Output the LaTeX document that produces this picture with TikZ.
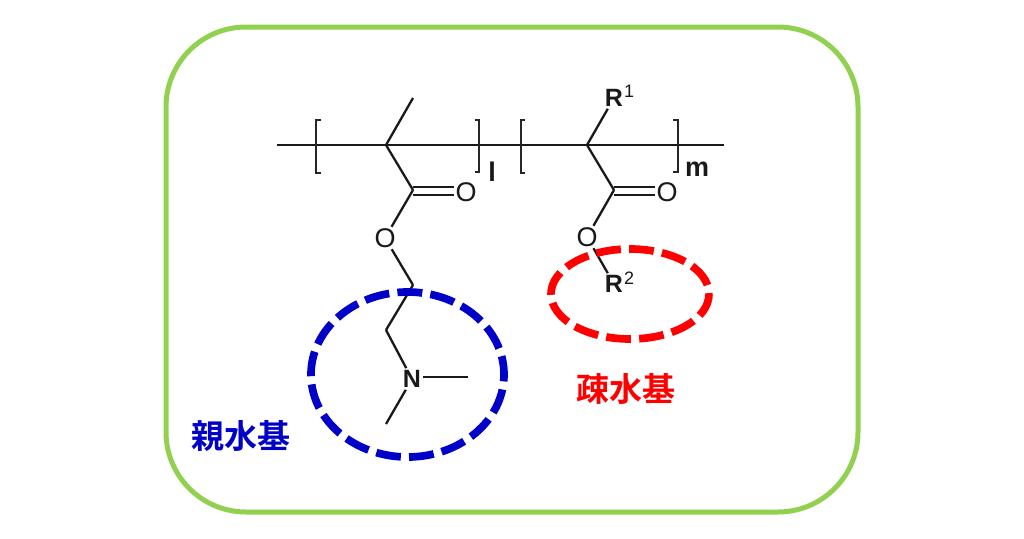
\documentclass[tikz,border=0pt]{standalone}
\usepackage{fontspec}
\setmainfont{Liberation Sans}
\newfontfamily\cjkbold[BoldFont={Noto Sans CJK JP Bold}]{Noto Sans CJK JP}
\definecolor{framegreen}{HTML}{92D050}
\definecolor{hydroblue}{HTML}{0000C8}
\definecolor{hydrored}{HTML}{FF0000}
\begin{document}
\begin{tikzpicture}[x=1pt,y=-1pt,
  bond/.style={draw=black!90,line width=2.3pt},
  brk/.style={draw=black!85,line width=2pt},
  atom/.style={inner sep=2pt,font=\fontsize{25}{25}\selectfont\bfseries,text=black!90},
  oxy/.style={inner sep=1.5pt,font=\fontsize{27}{27}\selectfont,text=black!90},
  idx/.style={inner sep=0pt,font=\fontsize{27}{27}\selectfont\bfseries,text=black!90},
  supr/.style={inner sep=0pt,font=\fontsize{18}{18}\selectfont,text=black!90},
  ring/.style={line width=7.7pt},
  label/.style={inner sep=0pt,font=\cjkbold\bfseries\fontsize{33}{34}\selectfont}]
\useasboundingbox (0,0) rectangle (1024,538);
\fill[white] (0,0) rectangle (1024,538);
\draw[framegreen,line width=5pt,rounded corners=80pt] (166,27) rectangle (858,512);

% backbone anchor points
\coordinate (endL) at (277,145);
\coordinate (endR) at (724,145);
\coordinate (C1) at (386,145);
\coordinate (C2) at (587,145);
\coordinate (Me) at (413,98);
\coordinate (CO1) at (413,190);
\coordinate (CO2) at (614,190);
\coordinate (CH1) at (413,285);
\coordinate (CH2) at (386,330);
\coordinate (NMe1) at (468,377);
\coordinate (NMe2) at (386,424);

% atoms
\node[oxy] (O1a) at (466,192) {O};
\node[oxy] (O1b) at (385,238) {O};
\node[oxy] (O2a) at (667,192) {O};
\node[oxy] (O2b) at (587,237) {O};
\node[atom] (N) at (412,379) {N};
\node[atom] (R1) at (614,98) {R};
\node[supr] (R1s) at (629,91) {1};
\node[atom] (R2) at (614,284) {R};
\node[supr] (R2s) at (629,278) {2};
\node[idx] (ll) at (492,172) {l};
\node[idx] (mm) at (697,169) {m};

% main chain
\draw[bond] (endL) -- (endR);
\draw[brk] (321,120) -- (316,120) -- (316,173) -- (321,173);
\draw[brk] (475,120) -- (479,120) -- (479,172) -- (475,172);
\draw[brk] (525,120) -- (521,120) -- (521,173) -- (525,173);
\draw[brk] (673,120) -- (678,120) -- (678,172) -- (673,172);

% unit l
\draw[bond] (C1) -- (Me);
\draw[bond] (C1) -- (CO1);
\draw[bond] ([yshift=3pt]CO1) -- ([yshift=5pt]O1a.west);
\draw[bond] ([yshift=-5pt]CO1) -- ([yshift=-3pt]O1a.west);
\draw[bond] (CO1) -- (O1b);
\draw[bond] (O1b) -- (CH1);
\draw[bond] (CH1) -- (CH2);
\draw[bond] (CH2) -- (N);
\draw[bond] ([yshift=2pt]N.east) -- (NMe1);
\draw[bond] (N) -- (NMe2);

% unit m
\draw[bond] (C2) -- (R1);
\draw[bond] (C2) -- (CO2);
\draw[bond] ([yshift=3pt]CO2) -- ([yshift=5pt]O2a.west);
\draw[bond] ([yshift=-5pt]CO2) -- ([yshift=-3pt]O2a.west);
\draw[bond] (CO2) -- (O2b);
\draw[bond] (O2b) -- (R2);

% group outlines
\draw[hydroblue,ring,dash pattern=on 24.9pt off 8.2pt,dash phase=18pt] (407.5,374.5) ellipse [x radius=96.5,y radius=82.5];
\draw[hydrored,ring,dash pattern=on 24.8pt off 8.27pt,dash phase=0.9pt] (630,294) ellipse [x radius=79,y radius=45];

% labels
\node[label,text=hydroblue] (hydrophil) at (240.5,436) {親水基};
\node[label,text=hydrored] (hydrophob) at (626,389) {疎水基};
\end{tikzpicture}
\end{document}
